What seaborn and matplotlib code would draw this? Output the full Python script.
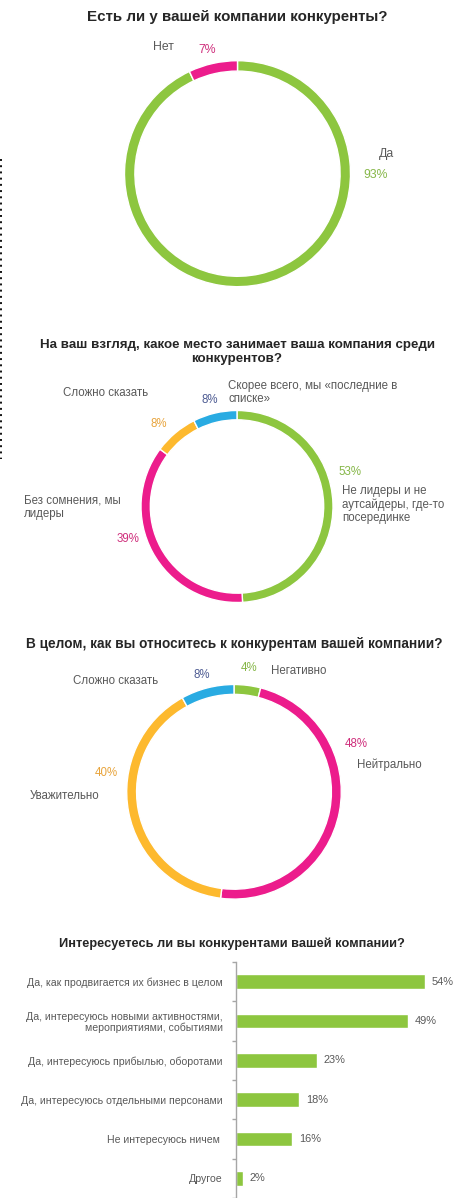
import matplotlib
matplotlib.use("Agg")
import matplotlib.pyplot as plt
from matplotlib.lines import Line2D
import seaborn as sns
import pandas as pd

# ---- data ----
q1_labels = ["Да", "Нет"]
q1_values = [93, 7]

q2_labels = ["Не лидеры и не\nаутсайдеры, где-то\nпосерединке", "Без сомнения, мы\nлидеры",
             "Сложно сказать", "Скорее всего, мы «последние в\nсписке»"]
q2_values = [53, 39, 8, 8]

q3_labels = ["Негативно", "Нейтрально", "Уважительно", "Сложно сказать"]
q3_values = [4, 48, 40, 8]

q4_labels = ["Да, как продвигается их бизнес в целом",
             "Да, интересуюсь новыми активностями,\nмероприятиями, событиями",
             "Да, интересуюсь прибылью, оборотами",
             "Да, интересуюсь отдельными персонами",
             "Не интересуюсь ничем ",
             "Другое"]
q4_values = [54, 49, 23, 18, 16, 2]

titles = ["Есть ли у вашей компании конкуренты?",
          "На ваш взгляд, какое место занимает ваша компания среди\nконкурентов?",
          "В целом, как вы относитесь к конкурентам вашей компании?",
          "Интересуетесь ли вы конкурентами вашей компании?"]

GREEN, PINK, YELLOW, BLUE = "#8DC63F", "#EC1C8C", "#FDB92E", "#29ABE2"
GREEN_T, PINK_T, YELLOW_T, BLUE_T = "#86B748", "#CF2F7C", "#E8A43C", "#4E5C93"
GRAY = "#595959"
DARK = "#262626"

sns.set_theme(style="white")
plt.rcParams["font.family"] = ["Liberation Sans", "DejaVu Sans"]

W, H = 461, 1198
fig = plt.figure(figsize=(W / 100, H / 100), dpi=100)
fig.patch.set_facecolor("white")


def fx(x):
    return x / W


def fy(y):
    return 1 - y / H


def put(x, y, s, color=GRAY, size=8.3, ha="center", va="center", weight="normal", ls=1.2):
    fig.text(fx(x), fy(y), s, color=color, fontsize=size, ha=ha, va=va,
             fontweight=weight, linespacing=ls)


def donut(cx, cy, r, values, colors, width):
    ax = fig.add_axes([fx(cx - r), fy(cy + r), 2 * r / W, 2 * r / H])
    ax.pie(values, colors=colors, startangle=90, counterclock=False, radius=1,
           wedgeprops=dict(width=width, edgecolor="white", linewidth=1.0))
    ax.set_xlim(-1, 1)
    ax.set_ylim(-1, 1)
    ax.set_aspect("equal")
    ax.axis("off")
    return ax


# dotted guide at the left edge
fig.add_artist(Line2D([fx(1.2), fx(1.2)], [fy(159), fy(459)], color="#111111",
                      lw=1.4, linestyle=(0, (1, 2.2)), transform=fig.transFigure))

# ---- question 1 ----
put(237, 17, titles[0], color=DARK, size=10.9, weight="bold")
donut(237.5, 173.7, 113, q1_values, [GREEN, PINK], 0.092)
put(163, 47.5, q1_labels[1], size=8.8)
put(207, 50, f"{q1_values[1]}%", color=PINK_T, size=8.8)
put(386, 154, q1_labels[0], size=8.8)
put(376, 175, f"{q1_values[0]}%", color=GREEN_T, size=8.8)

# ---- question 2 ----
put(237, 352, titles[1], color=DARK, size=9.6, weight="bold", ls=1.15)
donut(237, 506.5, 96, q2_values, [GREEN, PINK, YELLOW, BLUE], 0.097)
put(63, 392.7, q2_labels[2], ha="left")
put(210, 400, f"{q2_values[3]}%", color=BLUE_T)
put(228, 392.5, q2_labels[3], ha="left", ls=1.15)
put(159, 424, f"{q2_values[2]}%", color=YELLOW_T)
put(350, 471.7, f"{q2_values[0]}%", color=GREEN_T)
put(342, 504.7, q2_labels[0], ha="left", ls=1.15)
put(24, 507.5, q2_labels[1], ha="left", ls=1.15)
put(128, 539, f"{q2_values[1]}%", color=PINK_T)

# ---- question 3 ----
put(234, 644.3, titles[2], color=DARK, size=9.8, weight="bold")
donut(234, 791.8, 107.3, q3_values, [GREEN, PINK, YELLOW, BLUE], 0.092)
put(249, 668, f"{q3_values[0]}%", color=GREEN_T)
put(271, 671, q3_labels[0], ha="left")
put(202, 675, f"{q3_values[3]}%", color=BLUE_T)
put(116, 680.7, q3_labels[3])
put(356, 744, f"{q3_values[1]}%", color=PINK_T)
put(389, 764.3, q3_labels[1])
put(106, 773, f"{q3_values[2]}%", color=YELLOW_T)
put(64, 796, q3_labels[2])

# ---- question 4: horizontal bars ----
put(232, 944, titles[3], color=DARK, size=9.2, weight="bold")
top, bottom, left, right = 962, 1198, 236, 446
ax4 = fig.add_axes([fx(left), fy(bottom), (right - left) / W, (bottom - top) / H])
df = pd.DataFrame({"answer": q4_labels, "share": q4_values})
sns.barplot(data=df, x="share", y="answer", orient="h", color=GREEN, saturation=1,
            width=0.38, ax=ax4)
ax4.set_xlim(0, 60)
band = 40
ax4.set_ylim(-0.5 + (bottom - top) / band, -0.5)
for i, v in enumerate(q4_values):
    ax4.annotate(f"{v}%", xy=(v, i), xytext=(5, 0), textcoords="offset points",
                 ha="left", va="center", color=GRAY, fontsize=7.9)
ax4.set_xlabel("")
ax4.set_ylabel("")
ax4.set_xticks([])
for side in ["top", "right", "bottom"]:
    ax4.spines[side].set_visible(False)
ax4.spines["left"].set_color("#A6A6A6")
ax4.spines["left"].set_linewidth(1.0)
ax4.set_yticks([i - 0.5 for i in range(len(q4_values) + 1)], minor=True)
ax4.tick_params(axis="y", which="minor", length=3, width=1.0, color="#A6A6A6", left=True)
ax4.tick_params(axis="y", which="major", length=0, pad=9.5, labelsize=7.6, labelcolor=GRAY)
for t in ax4.get_yticklabels():
    t.set_linespacing(1.15)
ax4.set_facecolor("none")

fig.savefig("out.png", dpi=100, facecolor="white")
